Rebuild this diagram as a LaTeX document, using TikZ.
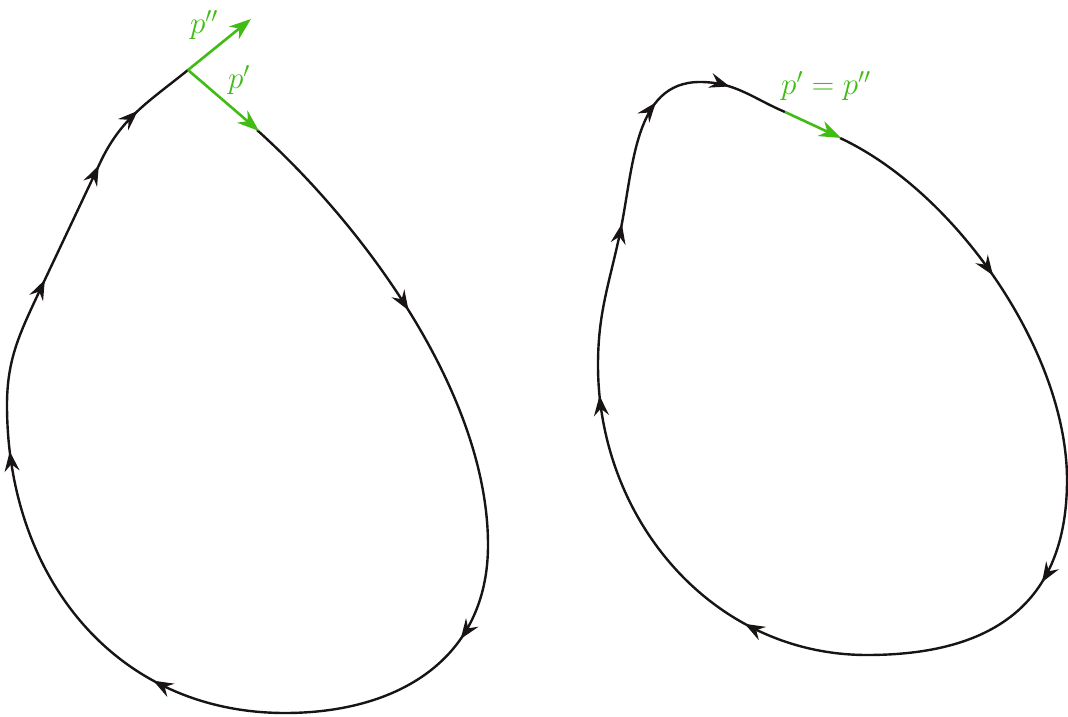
\documentclass[tikz,border=0pt]{standalone}
\usetikzlibrary{arrows.meta,decorations.markings}
\definecolor{pgreen}{RGB}{64,188,20}
\definecolor{curveblack}{RGB}{25,20,20}
\tikzset{
  curve/.style={draw=curveblack, line width=2.4pt},
  onetip/.style={postaction=decorate, decoration={markings,
      mark=at position #1 with {\arrow[curveblack]{Stealth[length=20pt,width=15pt,inset=7pt]}}}},
  twotips/.style 2 args={postaction=decorate, decoration={markings,
      mark=at position #1 with {\arrow[curveblack]{Stealth[length=20pt,width=15pt,inset=7pt]}},
      mark=at position #2 with {\arrow[curveblack]{Stealth[length=20pt,width=15pt,inset=7pt]}}}},
  garrow/.style={draw=pgreen, line width=2.6pt, -{Stealth[length=22pt,width=16pt,inset=7pt]}},
  glabel/.style={text=pgreen, font=\huge, inner sep=0pt, scale=1.5, transform shape}
}
\begin{document}
\begin{tikzpicture}[x=1pt,y=1pt]
\useasboundingbox (0,0) rectangle (1068,716);
% ---------- left curve ----------
\coordinate (V0) at (257,586);
\coordinate (V1) at (488,171);
\coordinate (V2) at (285,3);
\coordinate (V3) at (7,311);
\coordinate (V4) at (40,426);
\coordinate (V5) at (100,553);
\coordinate (V6) at (188,646);
\draw[curve, onetip=0.485] (V0) to[out=-42, in=90, looseness=0.8] (V1);
\draw[curve, onetip=0.334] (V1) to[out=-90, in=0, looseness=1.1] (V2);
\draw[curve, twotips={0.295}{0.90}] (V2) to[out=180, in=-90, looseness=1.05] (V3);
\draw[curve] (V3) to[out=90, in=-115] (V4);
\draw[curve, twotips={0.08}{0.98}] (V4) -- (V5);
\draw[curve, onetip=0.5] (V5) to[out=65, in=-141] (V6);
\coordinate (lp1) at (259,585);
\coordinate (lp2) at (251,697);
\draw[garrow] (V6) -- (lp1);
\draw[garrow] (V6) -- (lp2);
\node[glabel] (lab2) at (204,691) {$p''$};
\node[glabel] (lab1) at (239,636) {$p'$};
% ---------- right curve ----------
\coordinate (W0) at (840,578);
\coordinate (W1) at (1067,236);
\coordinate (W2) at (867,61);
\coordinate (W3) at (598,351);
\coordinate (W4) at (620,483);
\coordinate (W5) at (700,634);
\coordinate (W6) at (785,604);
\draw[curve, onetip=0.485] (W0) to[out=-25, in=90, looseness=0.8] (W1);
\draw[curve, onetip=0.35] (W1) to[out=-90, in=0, looseness=1.2] (W2);
\draw[curve, twotips={0.29}{0.93}] (W2) to[out=180, in=-90] (W3);
\draw[curve] (W3) to[out=90, in=-102] (W4);
\draw[curve, twotips={0.05}{0.73}] (W4) to[out=78, in=180] (W5);
\draw[curve, onetip=0.33] (W5) to[out=0, in=157] (W6);
\coordinate (re) at (841,578);
\draw[garrow] (W6) -- (re);
\node[glabel] (lab3) at (826,630) {$p'=p''$};
\end{tikzpicture}
\end{document}
